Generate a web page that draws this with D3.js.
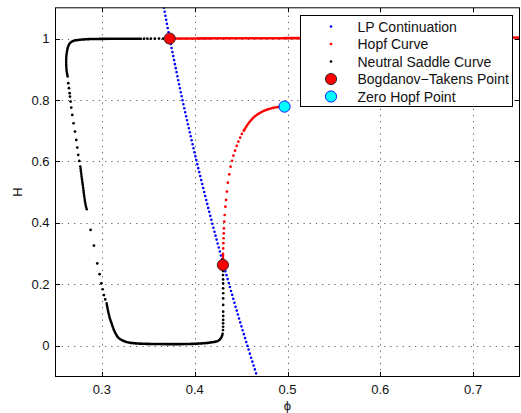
<!DOCTYPE html>
<html>
<head>
<meta charset="utf-8">
<script src="https://cdnjs.cloudflare.com/ajax/libs/d3/7.8.5/d3.min.js"></script>
<style>
  html, body { margin: 0; padding: 0; background: #fff; }
  svg { display: block; font-family: "Liberation Sans", Arial, Helvetica, sans-serif; }
</style>
</head>
<body>
<svg id="chart" width="521" height="413"></svg>
<script>
// ---- axes ----
const xDomain = [0.25, 0.75];
const yDomain = [-0.1, 1.1];
const xTicks = [0.3, 0.4, 0.5, 0.6, 0.7];
const yTicks = [0, 0.2, 0.4, 0.6, 0.8, 1];
const xLabel = "\u03D5";
const yLabel = "H";

// ---- LP continuation ----
const lpPhi = [0.3668, 0.3731, 0.3798, 0.3868, 0.3943, 0.4021, 0.4103, 0.4188, 0.4277, 0.4371, 0.4467, 0.4568, 0.4672];
const lpH   = [1.10,   1.00,   0.90,   0.80,   0.70,   0.60,   0.50,   0.40,   0.30,   0.20,   0.10,   0.00,  -0.10];

// ---- Hopf curve ----
// upper branch, leaving the upper BT point to the right
const hopfUpperPhi = [0.3731, 0.45, 0.55, 0.65, 0.75];
const hopfUpperH   = [1.0000, 1.0008, 1.0015, 1.0022, 1.0030];
// lower branch: dense stem above the lower BT point
const hopfStemPhi = [0.4304, 0.4305, 0.4306];
const hopfStemH   = [0.263, 0.285, 0.302];
// lower branch: sparse continuation points
const hopfDotsPhi = [0.4307, 0.4309, 0.4311, 0.4313, 0.4315, 0.4319, 0.4323, 0.4331, 0.4338, 0.4347, 0.4357,
                     0.4373, 0.4387, 0.4402, 0.4417, 0.4435, 0.4452, 0.4470, 0.4490, 0.4508, 0.4530];
const hopfDotsH   = [0.317, 0.334, 0.350, 0.366, 0.382, 0.404, 0.4257, 0.4528, 0.4746, 0.502, 0.531,
                     0.558, 0.583, 0.602, 0.619, 0.635, 0.6505, 0.6645, 0.6775, 0.6896, 0.7003];
// lower branch: dense arc into the zero-Hopf point
const hopfArcPhi = [0.4530, 0.4549, 0.4573, 0.4610, 0.4645, 0.4699, 0.4753, 0.4806, 0.4860, 0.4914, 0.4968];
const hopfArcH   = [0.7003, 0.7101, 0.7212, 0.7352, 0.7459, 0.7570, 0.7655, 0.7710, 0.7752, 0.7775, 0.7785];

// ---- Neutral saddle curve ----
// top plateau and upper-left corner (dense)
const nsTopPhi = [0.3420, 0.3200, 0.3000, 0.2853, 0.2765, 0.2710, 0.2675, 0.2656, 0.2638, 0.2627, 0.2618, 0.2615, 0.2620, 0.2631];
const nsTopH   = [0.9995, 0.9993, 0.9988, 0.9980, 0.9960, 0.9935, 0.9900, 0.9850, 0.9750, 0.9630, 0.9450, 0.9250, 0.8950, 0.8763];
// sparse points approaching the upper BT point
const nsTopDotsPhi = [0.3455, 0.3490, 0.3528, 0.3570, 0.3615, 0.3660];
const nsTopDotsH   = [0.9995, 0.9995, 0.9996, 0.9996, 0.9997, 0.9997];
// left descending branch
const nsLeftDotsPhi = [0.2638, 0.2645, 0.2652, 0.2656, 0.2663, 0.2670, 0.2681, 0.2695, 0.2710, 0.2724, 0.2735, 0.2745, 0.2756];
const nsLeftDotsH   = [0.8546, 0.8383, 0.8220, 0.8112, 0.7949, 0.7753, 0.7515, 0.7243, 0.6972, 0.6700, 0.6450, 0.6212, 0.6016];
const nsKneePhi = [0.2767, 0.2781, 0.2796, 0.2810, 0.2828, 0.2842];
const nsKneeH   = [0.5832, 0.5506, 0.5180, 0.4854, 0.4529, 0.4400];
// sparse drop towards the floor
const nsDropPhi = [0.2878, 0.2914, 0.2950, 0.2975, 0.2993, 0.3008, 0.3022, 0.3036];
const nsDropH   = [0.377,  0.326,  0.268,  0.233,  0.203,  0.184,  0.165,  0.151];
// floor (dense)
const nsFloorPhi = [0.3051, 0.3068, 0.3086, 0.3104, 0.3122, 0.3147, 0.3175, 0.3212, 0.3266, 0.3355, 0.3642, 0.4000, 0.4180, 0.4251, 0.4287, 0.4302];
const nsFloorH   = [0.138,  0.111,  0.089,  0.073,  0.057,  0.040,  0.027,  0.019,  0.012,  0.008,  0.0055, 0.0065, 0.011,  0.016,  0.027,  0.040];
// rise to the lower BT point
const nsRisePhi = [0.4305, 0.4306, 0.4306, 0.4307, 0.4307, 0.4307, 0.4307, 0.4307, 0.4307, 0.4306, 0.4306, 0.4306, 0.4305, 0.4305];
const nsRiseH   = [0.051,  0.062,  0.073,  0.084,  0.097,  0.111,  0.133,  0.154,  0.171,  0.187,  0.203,  0.216,  0.230,  0.243];

// ---- special points ----
const btPhi = [0.3731, 0.4304];
const btH   = [1.000,  0.263];
const zhPhi = [0.4968];
const zhH   = [0.7785];

// ---- legend ----
const legendLabels = ["LP Continuation", "Hopf Curve", "Neutral Saddle Curve", "Bogdanov\u2212Takens Point", "Zero Hopf Point"];

// ================= drawing =================
const svg = d3.select("#chart");
const plot = { left: 55.5, right: 519.5, top: 7.8, bottom: 376.5 };

const x = d3.scaleLinear().domain(xDomain).range([plot.left, plot.right]);
const y = d3.scaleLinear().domain(yDomain).range([plot.bottom, plot.top]);

const zip = (a, b) => a.map((v, i) => [v, b[i]]);

svg.append("defs").append("clipPath").attr("id", "plotClip")
  .append("rect")
  .attr("x", plot.left).attr("y", plot.top)
  .attr("width", plot.right - plot.left).attr("height", plot.bottom - plot.top);

// grid
const grid = svg.append("g").attr("stroke", "#333").attr("stroke-width", 1)
  .attr("stroke-dasharray", "1.2 5").attr("opacity", 0.8);
grid.selectAll("line.vx").data(xTicks).join("line")
  .attr("x1", d => Math.round(x(d)) + 0.5).attr("x2", d => Math.round(x(d)) + 0.5)
  .attr("y1", plot.bottom).attr("y2", plot.top);
grid.selectAll("line.hy").data(yTicks).join("line")
  .attr("y1", d => Math.round(y(d)) + 0.5).attr("y2", d => Math.round(y(d)) + 0.5)
  .attr("x1", plot.left).attr("x2", plot.right);

const marks = svg.append("g").attr("clip-path", "url(#plotClip)");
const line = d3.line().x(d => x(d[0])).y(d => y(d[1])).curve(d3.curveCatmullRom);

function trace(phi, h, color, gap) {
  marks.append("path")
    .datum(zip(phi, h))
    .attr("d", line)
    .attr("fill", "none")
    .attr("stroke", color)
    .attr("stroke-width", 2.6)
    .attr("stroke-linecap", "round")
    .attr("stroke-linejoin", "round")
    .attr("stroke-dasharray", gap ? `0 ${gap}` : null);
}
function dots(phi, h, color) {
  marks.append("g").selectAll("circle").data(zip(phi, h)).join("circle")
    .attr("cx", d => x(d[0])).attr("cy", d => y(d[1]))
    .attr("r", 1.35).attr("fill", color);
}

// LP continuation
trace(lpPhi, lpH, "#0000ff", 4.1);

// Hopf curve
trace(hopfUpperPhi, hopfUpperH, "#ff0000", 1.4);
trace(hopfStemPhi, hopfStemH, "#ff0000", 1.6);
dots(hopfDotsPhi, hopfDotsH, "#ff0000");
trace(hopfArcPhi, hopfArcH, "#ff0000", 1.6);

// Neutral saddle curve
trace(nsTopPhi, nsTopH, "#000000", 1.2);
dots(nsTopDotsPhi, nsTopDotsH, "#000000");
dots(nsLeftDotsPhi, nsLeftDotsH, "#000000");
trace(nsKneePhi, nsKneeH, "#000000", 1.6);
dots(nsDropPhi, nsDropH, "#000000");
trace(nsFloorPhi, nsFloorH, "#000000", 1.2);
dots(nsRisePhi, nsRiseH, "#000000");

// Bogdanov–Takens and zero-Hopf points
svg.append("g").selectAll("circle").data(zip(btPhi, btH)).join("circle")
  .attr("cx", d => x(d[0])).attr("cy", d => y(d[1])).attr("r", 5.6)
  .attr("fill", "#ff0000").attr("stroke", "#222").attr("stroke-width", 0.9);
svg.append("g").selectAll("circle").data(zip(zhPhi, zhH)).join("circle")
  .attr("cx", d => x(d[0])).attr("cy", d => y(d[1])).attr("r", 5.6)
  .attr("fill", "#00ffff").attr("stroke", "#0000ff").attr("stroke-width", 0.9);

// box and inward ticks
const axes = svg.append("g").attr("stroke", "#000").attr("stroke-width", 1).attr("fill", "none");
axes.append("rect")
  .attr("x", plot.left).attr("y", plot.top)
  .attr("width", plot.right - plot.left).attr("height", plot.bottom - plot.top);
const tl = 4.5;
xTicks.forEach(t => {
  const px = Math.round(x(t)) + 0.5;
  axes.append("line").attr("x1", px).attr("x2", px).attr("y1", plot.bottom).attr("y2", plot.bottom - tl);
  axes.append("line").attr("x1", px).attr("x2", px).attr("y1", plot.top).attr("y2", plot.top + tl);
});
yTicks.forEach(t => {
  const py = Math.round(y(t)) + 0.5;
  axes.append("line").attr("y1", py).attr("y2", py).attr("x1", plot.left).attr("x2", plot.left + tl);
  axes.append("line").attr("y1", py).attr("y2", py).attr("x1", plot.right).attr("x2", plot.right - tl);
});

// tick labels
const fmt = d3.format("~g");
svg.append("g").selectAll("text").data(xTicks).join("text")
  .attr("x", d => x(d)).attr("y", 394)
  .attr("text-anchor", "middle").attr("font-size", 13).attr("fill", "#111")
  .text(fmt);
svg.append("g").selectAll("text").data(yTicks).join("text")
  .attr("x", 49.5).attr("y", d => y(d) + 4.6)
  .attr("text-anchor", "end").attr("font-size", 13).attr("fill", "#111")
  .text(fmt);

// axis titles
svg.append("text").attr("x", (plot.left + plot.right) / 2).attr("y", 410)
  .attr("text-anchor", "middle").attr("font-size", 13).attr("fill", "#111").text(xLabel);
svg.append("text")
  .attr("transform", `translate(21.5,${(plot.top + plot.bottom) / 2}) rotate(-90)`)
  .attr("text-anchor", "middle").attr("font-size", 13).attr("fill", "#111").text(yLabel);

// legend
const lg = svg.append("g");
lg.append("rect").attr("x", 300.5).attr("y", 15.5).attr("width", 212).attr("height", 91)
  .attr("fill", "#fff").attr("stroke", "#000").attr("stroke-width", 1);
const rowY = [26.5, 44, 61.5, 79, 96.5];
const legendMarks = [
  { kind: "dot", fill: "#0000ff" },
  { kind: "dot", fill: "#ff0000" },
  { kind: "dot", fill: "#000000" },
  { kind: "circle", fill: "#ff0000", stroke: "#222" },
  { kind: "circle", fill: "#00ffff", stroke: "#0000ff" }
];
legendLabels.forEach((label, i) => {
  const m = legendMarks[i];
  const c = lg.append("circle").attr("cx", 331).attr("cy", rowY[i]).attr("fill", m.fill);
  if (m.kind === "dot") c.attr("r", 1.35);
  else c.attr("r", 5.6).attr("stroke", m.stroke).attr("stroke-width", 0.9);
  lg.append("text").attr("x", 357.5).attr("y", rowY[i] + 5)
    .attr("font-size", 14).attr("fill", "#111").text(label);
});
</script>
</body>
</html>
